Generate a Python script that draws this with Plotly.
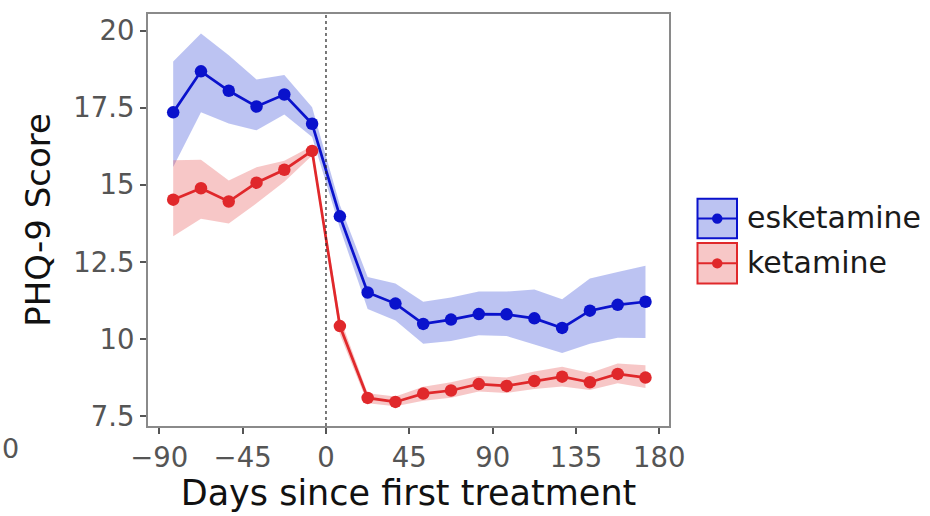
import plotly.graph_objects as go

# ---- data ----
days = [-82.5, -67.5, -52.5, -37.5, -22.5, -7.5, 7.5, 22.5, 37.5, 52.5,
        67.5, 82.5, 97.5, 112.5, 127.5, 142.5, 157.5, 172.5]
esk_mean = [17.35, 18.68, 18.05, 17.54, 17.93, 16.98, 13.98, 11.51, 11.15, 10.49,
            10.63, 10.81, 10.80, 10.67, 10.36, 10.92, 11.11, 11.21]
esk_upper = [19.00, 19.91, 19.20, 18.42, 18.56, 17.52, 14.35, 12.01, 11.80, 11.21,
             11.35, 11.54, 11.54, 11.61, 11.29, 11.96, 12.17, 12.38]
esk_lower = [15.58, 17.35, 16.99, 16.77, 17.28, 16.55, 13.60, 10.97, 10.60, 9.85,
             9.94, 10.12, 10.10, 9.82, 9.55, 9.85, 10.04, 10.03]
ket_mean = [14.52, 14.89, 14.46, 15.07, 15.49, 16.10, 10.42, 8.09, 7.96, 8.23,
            8.33, 8.54, 8.48, 8.64, 8.78, 8.60, 8.87, 8.75]
ket_upper = [15.80, 15.81, 15.14, 15.57, 15.78, 16.26, 10.70, 8.24, 8.14, 8.45,
             8.60, 8.80, 8.75, 8.95, 9.10, 8.90, 9.21, 9.15]
ket_lower = [13.33, 13.90, 13.75, 14.40, 15.10, 15.95, 10.15, 7.92, 7.82, 8.00,
             8.10, 8.30, 8.25, 8.38, 8.46, 8.35, 8.57, 8.41]

x_ticks = [-90, -45, 0, 45, 90, 135, 180]
x_ticktext = ["\u221290", "\u221245", "0", "45", "90", "135", "180"]
y_ticks = [7.5, 10, 12.5, 15, 17.5, 20]
y_ticktext = ["7.5", "10", "12.5", "15", "17.5", "20"]

series_names = ["esketamine", "ketamine"]
line_colors = ["#0a12cc", "#e0282b"]
fill_colors = ["rgba(70,90,220,0.36)", "rgba(230,70,70,0.30)"]

FONT = "DejaVu Sans"
fig = go.Figure()

bands = [(esk_upper, esk_lower), (ket_upper, ket_lower)]
means = [esk_mean, ket_mean]
for (up, lo), fc in zip(bands, fill_colors):
    fig.add_trace(go.Scatter(x=days + days[::-1], y=up + lo[::-1], fill="toself",
                             fillcolor=fc, line=dict(width=0), mode="lines",
                             hoverinfo="skip", showlegend=False))
for m, lc, name in zip(means, line_colors, series_names):
    fig.add_trace(go.Scatter(x=days, y=m, mode="lines+markers", name=name,
                             line=dict(color=lc, width=2.7),
                             marker=dict(color=lc, size=12.5), showlegend=False))

# vertical reference line at day 0
fig.add_shape(type="line", x0=0, x1=0, xref="x", y0=0, y1=1, yref="paper",
              line=dict(color="#222222", width=1.2, dash="dot"))

# manual legend (paper coords)
L, R, T, B = 148, 669, 13, 432
def px(x):
    return (x - L) / (R - L)
def py(y):
    return (B - y) / (B - T)

boxes = [(201, 241), (246, 287)]
for (y0, y1), lc, fc, name in zip(boxes, line_colors, fill_colors, series_names):
    fig.add_shape(type="rect", xref="paper", yref="paper",
                  x0=px(697.5), x1=px(737), y0=py(y1), y1=py(y0),
                  fillcolor=fc, line=dict(color=lc, width=2))
    ym = (y0 + y1) / 2
    fig.add_shape(type="line", xref="paper", yref="paper",
                  x0=px(698), x1=px(736.5), y0=py(ym), y1=py(ym),
                  line=dict(color=lc, width=2))
    fig.add_shape(type="circle", xref="paper", yref="paper",
                  x0=px(712), x1=px(722.5), y0=py(ym + 5.2), y1=py(ym - 5.2),
                  fillcolor=lc, line=dict(color=lc, width=0))
    fig.add_annotation(text=name, xref="paper", yref="paper", x=px(745), y=py(ym - 1),
                       xanchor="left", yanchor="middle", showarrow=False,
                       font=dict(family=FONT, size=30, color="#1a1a1a"))

# tick label of a neighbouring panel at the far left
fig.add_annotation(text="0", xref="paper", yref="paper", x=px(0), y=py(455),
                   xanchor="left", yanchor="middle", showarrow=False,
                   font=dict(family=FONT, size=27, color="#555555"))

axis_common = dict(showline=True, linecolor="#8a8a8a", linewidth=2, mirror=True,
                   showgrid=False, zeroline=False, ticks="outside", ticklen=6,
                   tickwidth=2, tickcolor="#555555",
                   tickfont=dict(family=FONT, size=27.5, color="#555555"))

fig.update_xaxes(range=[-96.1, 185.2], tickvals=x_ticks, ticktext=x_ticktext,
                 title=dict(text="Days since first treatment", standoff=6,
                            font=dict(family=FONT, size=35, color="#111111")),
                 **axis_common)
fig.update_yaxes(range=[7.18, 20.54], tickvals=y_ticks, ticktext=y_ticktext,
                 title=dict(text="PHQ-9 Score", standoff=12,
                            font=dict(family=FONT, size=34, color="#111111")),
                 **axis_common)

fig.update_layout(width=930, height=516, plot_bgcolor="white", paper_bgcolor="white",
                  margin=dict(l=L, r=930 - R, t=T, b=516 - B), showlegend=False,
                  font=dict(family=FONT))

fig.write_html("out.html")
